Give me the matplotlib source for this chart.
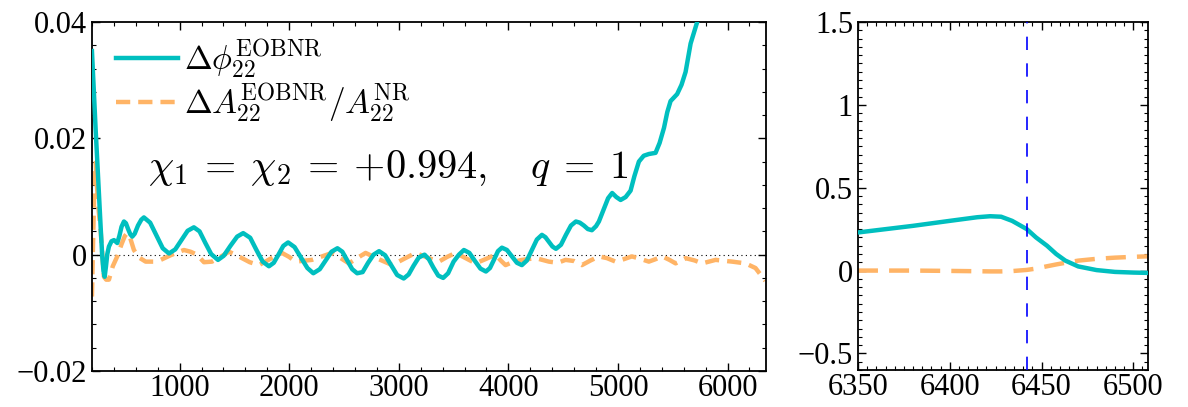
import matplotlib
matplotlib.use("Agg")
import matplotlib.pyplot as plt
from matplotlib.ticker import MultipleLocator, FixedLocator

plt.rcParams["font.family"] = ["Liberation Serif", "DejaVu Serif"]
plt.rcParams["mathtext.fontset"] = "cm"
for ax_ in ("xtick", "ytick"):
    plt.rcParams[f"{ax_}.direction"] = "in"
    plt.rcParams[f"{ax_}.major.size"] = 6
    plt.rcParams[f"{ax_}.minor.size"] = 3
    plt.rcParams[f"{ax_}.major.width"] = 1.0
    plt.rcParams[f"{ax_}.minor.width"] = 0.8
    plt.rcParams[f"{ax_}.labelsize"] = 22
plt.rcParams["xtick.top"] = True
plt.rcParams["ytick.right"] = True
plt.rcParams["axes.linewidth"] = 1.3

CYAN = "#00bfbf"
ORANGE = "#ffb466"

# inspiral: phase difference (solid cyan)
phase_t = [200, 215, 234, 250, 264, 280, 294, 305, 316, 328, 340, 355, 378, 401,
           431, 450, 470, 492, 510, 530, 550, 568, 590, 620, 650, 674, 731, 788,
           846, 903, 960, 1016, 1073, 1130, 1182, 1235, 1288, 1350, 1402, 1463,
           1525, 1580, 1644, 1701, 1758, 1815, 1859, 1902, 1946, 1990, 2049, 2107,
           2166, 2220, 2279, 2332, 2386, 2440, 2485, 2530, 2575, 2620, 2670, 2720,
           2770, 2820, 2875, 2930, 2985, 3045, 3090, 3135, 3182, 3235, 3275, 3315,
           3360, 3405, 3450, 3500, 3549, 3594, 3644, 3695, 3745, 3795, 3832, 3868,
           3905, 3941, 3987, 4032, 4078, 4123, 4169, 4215, 4260, 4306, 4338, 4370,
           4402, 4434, 4480, 4525, 4571, 4616, 4652, 4689, 4725, 4762, 4800, 4826,
           4870, 4910, 4947, 4985, 5024, 5070, 5115, 5150, 5191, 5235, 5282, 5343,
           5380, 5420, 5450, 5480, 5540, 5580, 5617, 5663, 5723, 5800]
phase_dphi = [0.035, 0.029, 0.0214, 0.0155, 0.010, 0.0045, -0.0003, -0.0028,
              -0.0038, -0.002, 0.0001, 0.0014, 0.0023, 0.0025, 0.002, 0.0032, 0.0048,
              0.0057, 0.0054, 0.0044, 0.0035, 0.0031, 0.0036, 0.005, 0.006, 0.0064,
              0.0055, 0.0033, 0.0011, 0.0002, 0.0009, 0.0025, 0.0041, 0.0047, 0.004,
              0.002, 0.0001, -0.0009, -0.0002, 0.0015, 0.0031, 0.0037, 0.0029, 0.0008,
              -0.0012, -0.002, -0.0014, 0.0, 0.0015, 0.0021, 0.0013, -0.0005, -0.0023,
              -0.0032, -0.0025, -0.001, 0.0005, 0.0011, 0.0005, -0.001, -0.0025,
              -0.0032, -0.003, -0.0014, 0.0, 0.0006, -0.0001, -0.0018, -0.0035,
              -0.0041, -0.0034, -0.0019, -0.0005, 0.0, -0.0008, -0.0022, -0.0036,
              -0.004, -0.0032, -0.0012, 0.0, 0.0008, 0.0003, -0.0011, -0.0024,
              -0.0029, -0.0023, -0.0009, 0.0006, 0.0012, 0.0008, -0.0003, -0.0014,
              -0.0018, -0.001, 0.0008, 0.0026, 0.0034, 0.003, 0.0022, 0.0014, 0.001,
              0.0017, 0.0034, 0.005, 0.0057, 0.0055, 0.005, 0.0044, 0.0042, 0.0049,
              0.0057, 0.0078, 0.0097, 0.0106, 0.0099, 0.0094, 0.0099, 0.0110, 0.0135,
              0.016, 0.0170, 0.0173, 0.0175, 0.0192, 0.0218, 0.0245, 0.0264, 0.0276,
              0.0292, 0.0314, 0.0363, 0.0400, 0.048]

# inspiral: relative amplitude difference (dashed orange)
amp_t = [200, 210, 222, 234, 245, 262, 279, 295, 309, 330, 355, 390, 431, 470,
         500, 522, 550, 583, 630, 690, 760, 827, 930, 1039, 1100, 1158, 1222, 1295,
         1380, 1450, 1510, 1569, 1640, 1724, 1830, 1934, 2000, 2059, 2207, 2300,
         2390, 2470, 2545, 2620, 2697, 2820, 2940, 3050, 3153, 3260, 3366, 3440,
         3518, 3610, 3701, 3800, 3883, 3930, 3974, 4050, 4124, 4250, 4370, 4450,
         4522, 4600, 4671, 4750, 4826, 4900, 4978, 5050, 5127, 5200, 5282, 5340,
         5404, 5470, 5526, 5617, 5700, 5769, 5891, 6042, 6164, 6255, 6316, 6345]
amp_dA = [-0.0072, 0.002, 0.012, 0.0158, 0.012, 0.0075, 0.0042, 0.0, -0.0038,
          -0.0043, -0.0043, -0.002, -0.0003, 0.0018, 0.0032, 0.0037, 0.0028, 0.0008,
          -0.0005, -0.0012, -0.0012, -0.0009, 0.0, 0.0008, 0.0005, 0.0, -0.0013,
          -0.0012, -0.0003, 0.0005, 0.0, -0.0006, -0.0013, -0.0018, -0.0007, 0.0003,
          -0.0004, -0.0012, -0.0009, -0.0003, 0.0003, -0.0006, -0.0015, -0.0006,
          0.0003, -0.0008, -0.0018, -0.0007, 0.0003, -0.0005, -0.0012, -0.0004,
          0.0003, -0.0006, -0.0015, -0.0007, 0.0, -0.001, -0.0018, -0.0012, -0.0009,
          -0.0006, -0.0012, -0.0014, -0.0009, -0.0011, -0.0018, -0.0010, -0.0003,
          -0.0006, -0.0012, -0.0008, -0.0003, -0.0007, -0.0012, -0.0008, -0.0003,
          -0.0009, -0.0015, -0.0006, -0.0010, -0.0015, -0.0009, -0.0012, -0.0015,
          -0.0023, -0.0038, -0.0045]

# merger zoom
merger_t = [6350, 6380, 6400, 6415, 6422, 6428, 6434, 6442, 6447, 6453, 6458, 6463,
            6470, 6480, 6490, 6500, 6508]
merger_dphi = [0.23, 0.27, 0.30, 0.322, 0.328, 0.325, 0.30, 0.25, 0.20, 0.15, 0.10,
               0.06, 0.025, 0.003, -0.008, -0.012, -0.014]
merger_dA = [0.0, 0.0, -0.002, -0.004, -0.005, -0.005, -0.003, 0.004, 0.012, 0.026,
             0.037, 0.047, 0.06, 0.071, 0.078, 0.083, 0.086]
t_peak = 6442

fig = plt.figure(figsize=(11.88, 4.07), dpi=100)
ax = fig.add_axes([0.0774, 0.0885, 0.5673, 0.8575])
axr = fig.add_axes([0.7222, 0.0909, 0.2441, 0.855])

ax.axhline(0, color="black", lw=0.8, ls=(0, (1, 3)), zorder=1)
ax.plot(amp_t, amp_dA, color=ORANGE, lw=3.2, dashes=(3.2, 1.8),
        label=r"$\Delta A_{22}^{\rm EOBNR}/A_{22}^{\rm NR}$", zorder=2)
ax.plot(phase_t, phase_dphi, color=CYAN, lw=3.2, solid_joinstyle="round",
        label=r"$\Delta\phi_{22}^{\rm EOBNR}$", zorder=3)
ax.set_xlim(200, 6350)
ax.set_ylim(-0.02, 0.04)
ax.set_xticks([1000, 2000, 3000, 4000, 5000, 6000])
ax.xaxis.set_minor_locator(FixedLocator([t for t in range(200, 6400, 200) if t % 1000]))
ax.set_yticks([-0.02, 0, 0.02, 0.04])
ax.set_yticklabels(["\u22120.02", "0", "0.02", "0.04"])
ax.yaxis.set_minor_locator(MultipleLocator(0.004))
ax.tick_params(axis="x", pad=2)

h, l = ax.get_legend_handles_labels()
ax.legend(h[::-1], l[::-1], loc="upper left", bbox_to_anchor=(0.035, 0.955),
          frameon=False, fontsize=24, handlelength=1.86, handletextpad=0.18,
          borderpad=0, borderaxespad=0, labelspacing=0.0)
ax.text(0.083, 0.552, r"$\chi_1 \:=\: \chi_2 \:=\: {+}0.994,\ \ \ q \:=\: 1$",
        transform=ax.transAxes, fontsize=29, va="baseline", ha="left")

axr.plot(merger_t, merger_dA, color=ORANGE, lw=3.2, dashes=(4.5, 2.5), zorder=2)
axr.plot(merger_t, merger_dphi, color=CYAN, lw=3.2, solid_joinstyle="round", zorder=3)
axr.axvline(t_peak, color="#0000ff", lw=1.2, dashes=(8, 8), zorder=4)
axr.set_xlim(6350, 6508)
axr.set_ylim(-0.6, 1.5)
axr.set_xticks([6350, 6400, 6450, 6500])
axr.xaxis.set_minor_locator(MultipleLocator(5))
axr.set_yticks([-0.5, 0, 0.5, 1, 1.5])
axr.set_yticklabels(["\u22120.5", "0", "0.5", "1", "1.5"])
axr.yaxis.set_minor_locator(MultipleLocator(0.05))
axr.tick_params(axis="x", pad=2)

fig.savefig("out.png", dpi=100, facecolor="white")
